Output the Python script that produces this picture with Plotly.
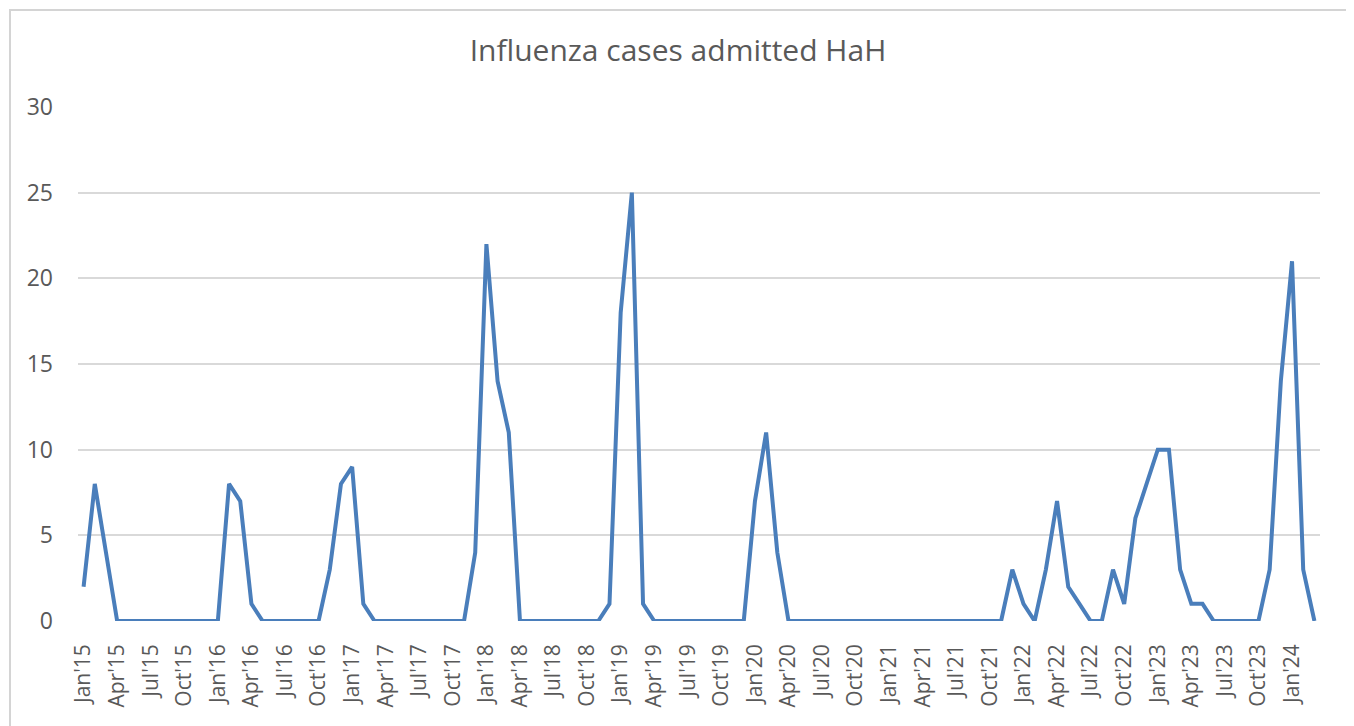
import plotly.graph_objects as go

# Monthly categories Jan'15 .. Mar'24
month_names = ["Jan", "Feb", "Mar", "Apr", "May", "Jun", "Jul", "Aug", "Sep", "Oct", "Nov", "Dec"]
months = [f"{m}'{y:02d}" for y in range(15, 25) for m in month_names][:111]

cases = [
    2, 8, 4, 0, 0, 0, 0, 0, 0, 0, 0, 0,        # 2015
    0, 8, 7, 1, 0, 0, 0, 0, 0, 0, 3, 8,        # 2016
    9, 1, 0, 0, 0, 0, 0, 0, 0, 0, 0, 4,        # 2017
    22, 14, 11, 0, 0, 0, 0, 0, 0, 0, 0, 1,     # 2018
    18, 25, 1, 0, 0, 0, 0, 0, 0, 0, 0, 0,      # 2019
    7, 11, 4, 0, 0, 0, 0, 0, 0, 0, 0, 0,       # 2020
    0, 0, 0, 0, 0, 0, 0, 0, 0, 0, 0, 3,        # 2021
    1, 0, 3, 7, 2, 1, 0, 0, 3, 1, 6, 8,        # 2022
    10, 10, 3, 1, 1, 0, 0, 0, 0, 0, 3, 14,     # 2023
    21, 3, 0,                                  # 2024
]

tick_labels = months[::3]
y_ticks = [0, 5, 10, 15, 20, 25, 30]

# page body has an 8px margin; compensate so the plot lands where the reference has it
OFF = 8
W, H = 1354, 726
L, R, T, B = 78, 1320, 107, 621   # plot area in window pixels

fig = go.Figure()
fig.add_trace(go.Scatter(
    x=months, y=cases, mode="lines",
    line=dict(color="#4a7ebb", width=4),
    hoverinfo="x+y",
))

grey = "#595959"
pw, ph = R - L, B - T
fig.update_layout(
    width=W, height=H,
    margin=dict(l=L - OFF, r=W + OFF - R, t=T - OFF, b=H + OFF - B),
    paper_bgcolor="white", plot_bgcolor="white",
    showlegend=False,
    title=dict(text="Influenza cases admitted HaH", x=(678 - OFF) / W, xanchor="center",
               y=1 - (50 - OFF) / H, yanchor="middle",
               font=dict(family="Open Sans", size=30, color=grey)),
    xaxis=dict(
        type="category", categoryorder="array", categoryarray=months,
        range=[-0.5, len(months) - 0.5],
        tickmode="array", tickvals=tick_labels, ticktext=tick_labels,
        tickangle=-90, showgrid=False, showline=False, zeroline=False,
        ticks="", ticklabelstandoff=18,
        tickfont=dict(family="Open Sans", size=21, color=grey),
    ),
    yaxis=dict(
        range=[0, 30], tickmode="array", tickvals=y_ticks,
        showgrid=True, gridcolor="#d9d9d9", gridwidth=1.5,
        zeroline=False, showline=False, ticks="",
        ticklabelstandoff=24,
        tickfont=dict(family="Open Sans", size=23, color=grey),
    ),
    shapes=[dict(
        type="rect", xref="paper", yref="paper",
        x0=(10 - L) / pw, x1=(1348 - L) / pw,
        y0=(B - 760) / ph, y1=(B - 10) / ph,
        line=dict(color="#d4d4d4", width=2), fillcolor="rgba(0,0,0,0)",
        layer="above",
    )],
)

fig.write_html("out.html")
